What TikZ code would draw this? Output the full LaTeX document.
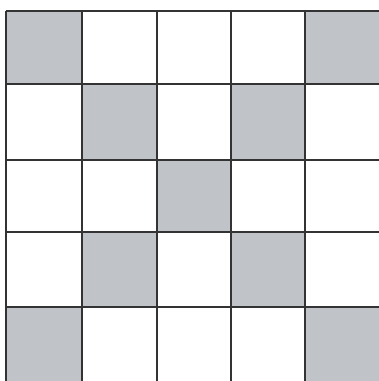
\documentclass[tikz,border=0pt]{standalone}
\begin{document}
\begin{tikzpicture}[x=1pt,y=-1pt,
  gridline/.style={line width=1.6pt,draw=black!80},
  shade/.style={fill=cellgray}]
\definecolor{cellgray}{RGB}{192,195,200}
\useasboundingbox (0,0) rectangle (379,381);
\fill[white] (0,0) rectangle (379,381);
\def\xs{{6,82,157,231,305,381}}
\def\ys{{11,84,160,232,307,383}}
\foreach \c/\r in {0/0,4/0,1/1,3/1,2/2,1/3,3/3,0/4,4/4}{
  \pgfmathsetmacro{\xa}{\xs[\c]}
  \pgfmathsetmacro{\xb}{\xs[\c+1]}
  \pgfmathsetmacro{\ya}{\ys[\r]}
  \pgfmathsetmacro{\yb}{\ys[\r+1]}
  \fill[shade] (\xa,\ya) rectangle (\xb,\yb);
}
\foreach \y in {11,84,160,232,307}{
  \draw[gridline] (6,\y) -- (381,\y);
}
\foreach \x in {6,82,157,231,305}{
  \draw[gridline] (\x,11) -- (\x,383);
}
\end{tikzpicture}
\end{document}
